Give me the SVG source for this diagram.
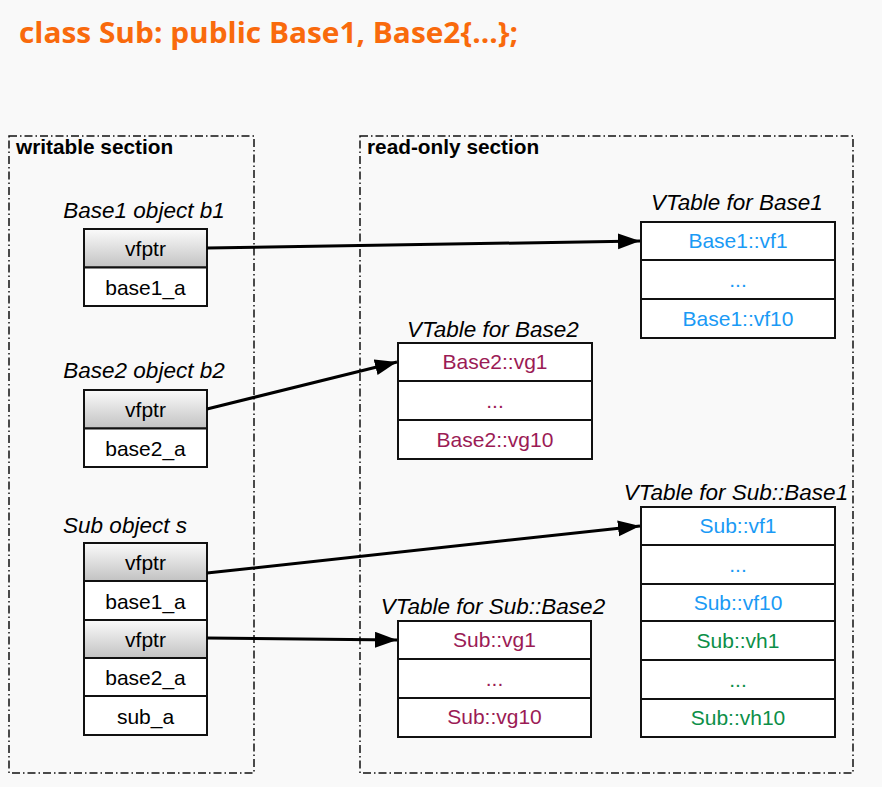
<svg xmlns="http://www.w3.org/2000/svg" width="882" height="787" viewBox="0 0 882 787">
<defs>
<linearGradient id="gv" x1="0" y1="0" x2="0" y2="1">
<stop offset="0" stop-color="#fbfbfb"/>
<stop offset="1" stop-color="#c2c2c2"/>
</linearGradient>
<marker id="ah" markerUnits="userSpaceOnUse" markerWidth="24" markerHeight="18" refX="22" refY="8" orient="auto">
<path d="M0,0 L22,8 L0,16 z" fill="#000"/>
</marker>
</defs>
<style>
.sec{fill:none;stroke:#111;stroke-width:1.5;stroke-dasharray:8 3 1.5 3}
.secl{font-family:"Liberation Sans",Arial,sans-serif;font-weight:bold;font-size:20.8px;fill:#000}
.ttl{font-family:"Liberation Sans",Arial,sans-serif;font-style:italic;font-size:22.5px;fill:#000;text-anchor:middle}
.cell{fill:#fff;stroke:#111;stroke-width:2}
.ptr{fill:url(#gv);stroke:#111;stroke-width:2}
.t{font-family:"Liberation Sans",Arial,sans-serif;font-size:21px;text-anchor:middle;fill:#000}
.b{fill:#1a9af5}
.m{fill:#9b1b55}
.g{fill:#0c8f48}
.arr{stroke:#000;stroke-width:3;fill:none;marker-end:url(#ah)}
</style>
<rect width="882" height="787" fill="#f9f9f9"/>
<text x="19" y="43" font-family="'Open Sans','Liberation Sans',sans-serif" font-weight="bold" font-size="29" fill="#f96a0c" textLength="499" lengthAdjust="spacingAndGlyphs">class Sub: public Base1, Base2{…};</text>

<g id="writable-section">
<rect class="sec" x="9" y="136" width="245" height="637"/>
<text class="secl" x="16" y="154">writable section</text>
</g>
<g id="readonly-section">
<rect class="sec" x="360" y="136" width="493" height="637"/>
<text class="secl" x="367" y="154">read-only section</text>
</g>

<g id="b1">
<text class="ttl" x="144" y="218">Base1 object b1</text>
<rect class="ptr" x="84" y="229" width="123" height="38.5"/>
<rect class="cell" x="84" y="267.5" width="123" height="38.5"/>
<text class="t" x="145.5" y="255.5">vfptr</text>
<text class="t" x="145.5" y="294.5">base1_a</text>
</g>

<g id="b2">
<text class="ttl" x="144" y="378">Base2 object b2</text>
<rect class="ptr" x="84" y="390" width="123" height="38.5"/>
<rect class="cell" x="84" y="428.5" width="123" height="38.5"/>
<text class="t" x="145.5" y="416.5">vfptr</text>
<text class="t" x="145.5" y="455.5">base2_a</text>
</g>

<g id="s">
<text class="ttl" x="125" y="533">Sub object s</text>
<rect class="ptr" x="84" y="543" width="123" height="38"/>
<rect class="cell" x="84" y="581" width="123" height="39"/>
<rect class="ptr" x="84" y="620" width="123" height="38"/>
<rect class="cell" x="84" y="658" width="123" height="38"/>
<rect class="cell" x="84" y="696" width="123" height="39"/>
<text class="t" x="145.5" y="569.5">vfptr</text>
<text class="t" x="145.5" y="608.5">base1_a</text>
<text class="t" x="145.5" y="646.5">vfptr</text>
<text class="t" x="145.5" y="684.5">base2_a</text>
<text class="t" x="145.5" y="723.5">sub_a</text>
</g>

<g id="vt-base1">
<text class="ttl" x="737" y="210">VTable for Base1</text>
<rect class="cell" x="641" y="222" width="194" height="38"/>
<rect class="cell" x="641" y="260" width="194" height="39"/>
<rect class="cell" x="641" y="299" width="194" height="39"/>
<text class="t b" x="738" y="248">Base1::vf1</text>
<text class="t b" x="738" y="287">...</text>
<text class="t b" x="738" y="326">Base1::vf10</text>
</g>

<g id="vt-base2">
<text class="ttl" x="493" y="337">VTable for Base2</text>
<rect class="cell" x="398" y="343" width="194" height="38"/>
<rect class="cell" x="398" y="381" width="194" height="39"/>
<rect class="cell" x="398" y="420" width="194" height="39"/>
<text class="t m" x="495" y="369">Base2::vg1</text>
<text class="t m" x="495" y="408">...</text>
<text class="t m" x="495" y="447">Base2::vg10</text>
</g>

<g id="vt-sub-base1">
<text class="ttl" x="736" y="500">VTable for Sub::Base1</text>
<rect class="cell" x="641" y="507" width="194" height="38"/>
<rect class="cell" x="641" y="545" width="194" height="39"/>
<rect class="cell" x="641" y="584" width="194" height="37"/>
<rect class="cell" x="641" y="621" width="194" height="39"/>
<rect class="cell" x="641" y="660" width="194" height="39"/>
<rect class="cell" x="641" y="699" width="194" height="38"/>
<text class="t b" x="738" y="533">Sub::vf1</text>
<text class="t b" x="738" y="572">...</text>
<text class="t b" x="738" y="610">Sub::vf10</text>
<text class="t g" x="738" y="648">Sub::vh1</text>
<text class="t g" x="738" y="687">...</text>
<text class="t g" x="738" y="725">Sub::vh10</text>
</g>

<g id="vt-sub-base2">
<text class="ttl" x="493" y="614">VTable for Sub::Base2</text>
<rect class="cell" x="398" y="621" width="193" height="38"/>
<rect class="cell" x="398" y="659" width="193" height="39"/>
<rect class="cell" x="398" y="698" width="193" height="39"/>
<text class="t m" x="494.5" y="647">Sub::vg1</text>
<text class="t m" x="494.5" y="686">...</text>
<text class="t m" x="494.5" y="724">Sub::vg10</text>
</g>

<g id="connectors">
<line class="arr" x1="207" y1="248" x2="640" y2="241"/>
<line class="arr" x1="207" y1="409" x2="397" y2="362"/>
<line class="arr" x1="207" y1="573" x2="640" y2="526"/>
<line class="arr" x1="207" y1="638" x2="397" y2="640"/>
</g>
</svg>
